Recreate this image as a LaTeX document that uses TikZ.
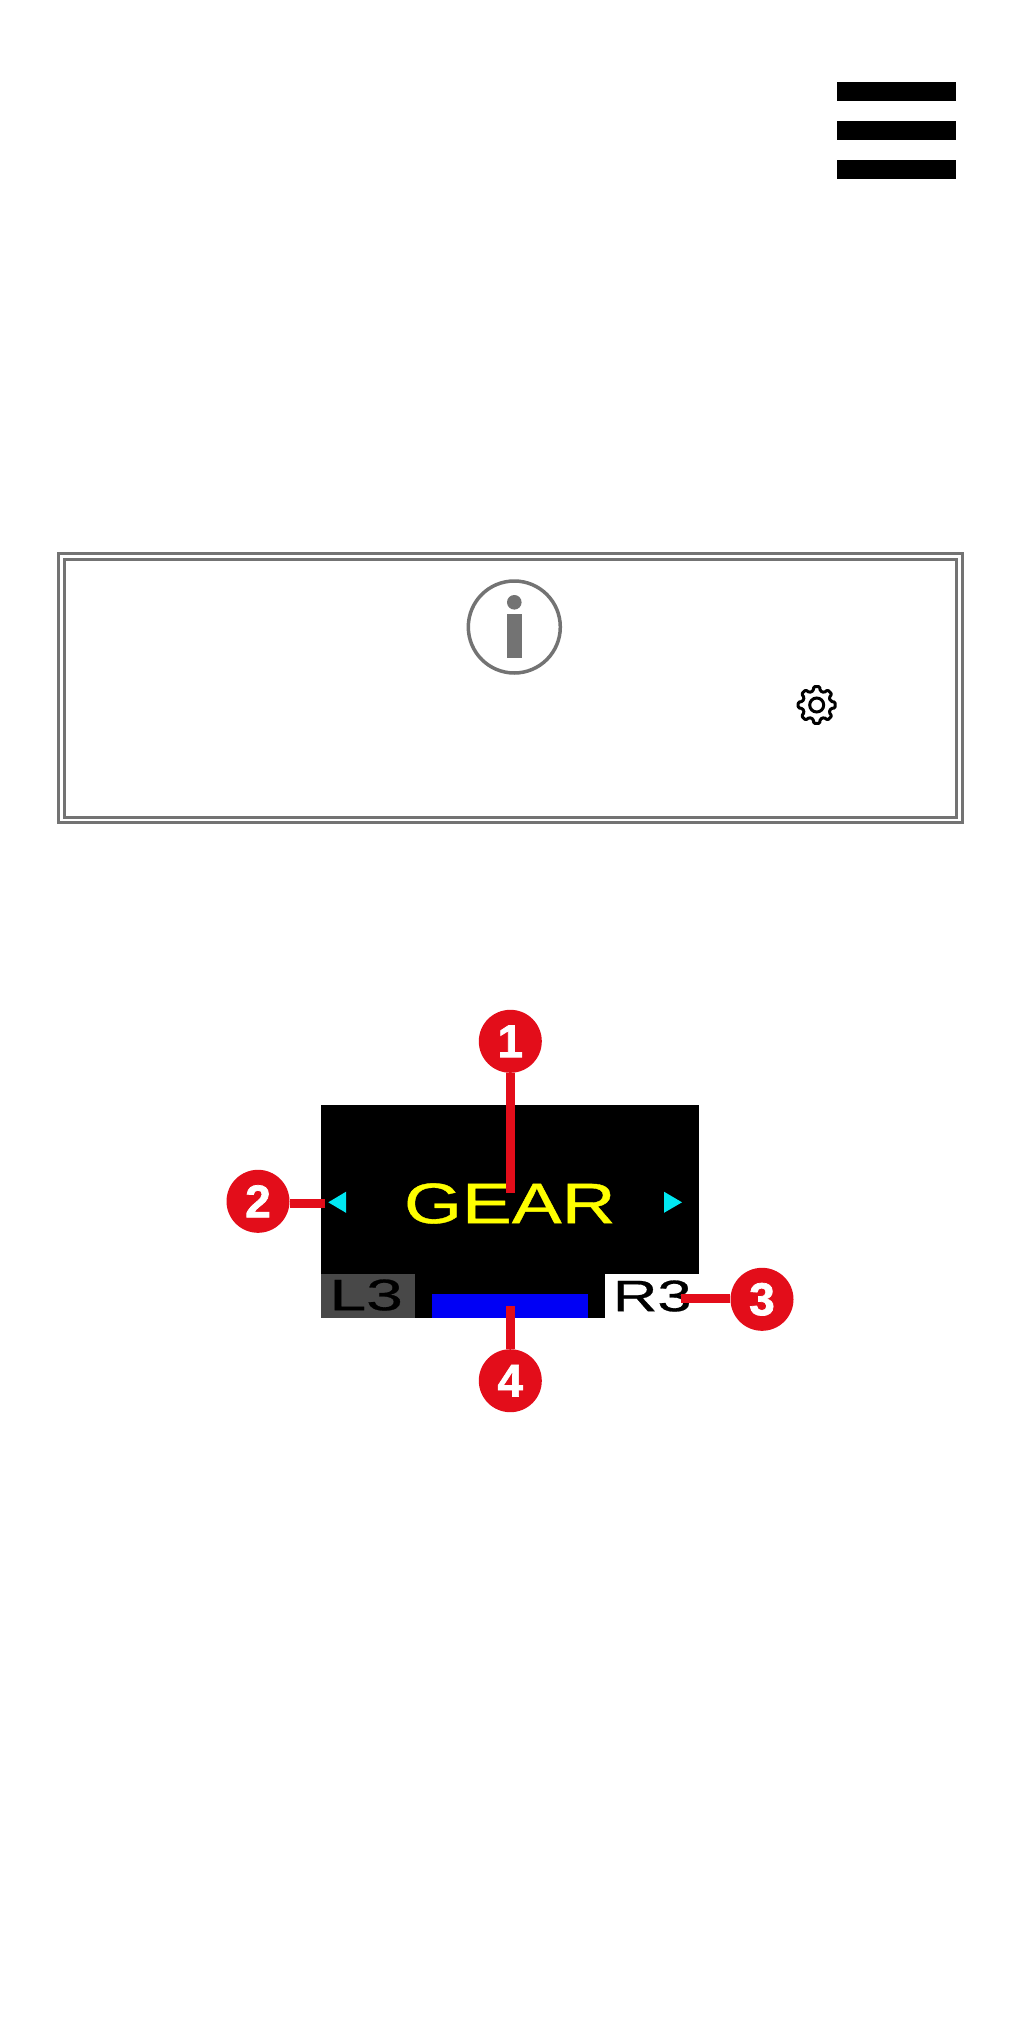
\documentclass[tikz,border=0pt]{standalone}
\usepackage{fontspec}
\usepackage{graphicx}
\usetikzlibrary{calc}
\setmainfont{Liberation Sans}
\newfontfamily\calloutfont[FakeBold=1.6]{Liberation Sans Bold}
\newfontfamily\screenfont[FakeBold=0.6]{Liberation Sans}
\definecolor{calloutred}{HTML}{E30D1A}
\definecolor{framegrey}{HTML}{737373}
\definecolor{lthree}{HTML}{484848}
\definecolor{arrowcyan}{HTML}{00E8F2}
\definecolor{gearyellow}{HTML}{FFFF00}
\definecolor{barblue}{HTML}{0000F5}
\tikzset{
  callout/.style={circle,fill=calloutred,minimum size=63pt,inner sep=0pt,text=white,
    font=\fontsize{46}{46}\calloutfont},
  leader/.style={draw=calloutred,line width=8.8pt,line cap=butt},
  framerule/.style={draw=framegrey,line width=3pt},
  softkey/.style={inner sep=0pt,font=\fontsize{44}{44}\screenfont},
}
\begin{document}
\begin{tikzpicture}[x=1pt,y=-1pt]
\path[use as bounding box,fill=white] (0,0) rectangle (1021,2041);
% menu icon
\fill[black] (837,82) rectangle (956,101);
\fill[black] (837,121) rectangle (956,140);
\fill[black] (837,160) rectangle (956,179);
% note frame
\draw[framerule] (58.5,553.5) rectangle (962.5,822.5);
\draw[framerule] (64.5,559.5) rectangle (956.5,817.5);
% info icon
\draw[framegrey,line width=3.5pt] (514.3,627) circle[radius=46];
\fill[framegrey] (514.3,602.3) circle[radius=7.3];
\fill[framegrey] (507.3,614.3) rectangle (521.7,657.7);
% gear icon
\coordinate (gearc) at (816.7,705);
\draw[black,line width=3pt,line join=round,rounded corners=1.2pt]
  ($(gearc)+(-14:14.5)$)
  \foreach \a in {0,45,...,315}{
    -- ($(gearc)+(\a-14:14.5)$) -- ($(gearc)+(\a-9:18.7)$) -- ($(gearc)+(\a+9:18.7)$) -- ($(gearc)+(\a+14:14.5)$)
  } -- cycle;
\draw[black,line width=3pt] (gearc) circle[radius=7];
% screen
\fill[black] (321,1105) rectangle (699,1317.5);
\fill[lthree] (321,1274) rectangle (415,1317.5);
\fill[white] (605,1274) rectangle (699,1317.5);
\fill[barblue] (431.7,1293.7) rectangle (588,1317.5);
\fill[arrowcyan] (328.3,1202.3) -- (346,1191.7) -- (346,1212.8) -- cycle;
\fill[arrowcyan] (682,1202.3) -- (664,1191.7) -- (664,1212.8) -- cycle;
\node[inner sep=0pt,text=gearyellow,font=\fontsize{57}{57}\screenfont] (geartext) at (509.8,1203.5) {\scalebox{1.31}[1]{GEAR}};
\node[softkey,text=black] (lkey) at (366.2,1295) {\scalebox{1.5}[1]{L3}};
\node[softkey,text=black] (rkey) at (652.3,1296) {\scalebox{1.4}[1]{R3}};
% callouts
\node[callout] (c1) at (510.3,1041.3) {1};
\node[callout] (c2) at (258,1201.3) {2};
\node[callout] (c3) at (762,1299.3) {3};
\node[callout] (c4) at (510.3,1380.7) {4};
\coordinate (e1) at (510.3,1192.7);
\coordinate (e2) at (325.3,1203.2);
\coordinate (e3) at (680.7,1298.4);
\coordinate (e4) at (510.3,1306);
\draw[leader] (c1) -- (e1);
\draw[leader] (e2) -- (e2 -| c2.east);
\draw[leader] (e3) -- (e3 -| c3.west);
\draw[leader] (c4) -- (e4);
\end{tikzpicture}
\end{document}
